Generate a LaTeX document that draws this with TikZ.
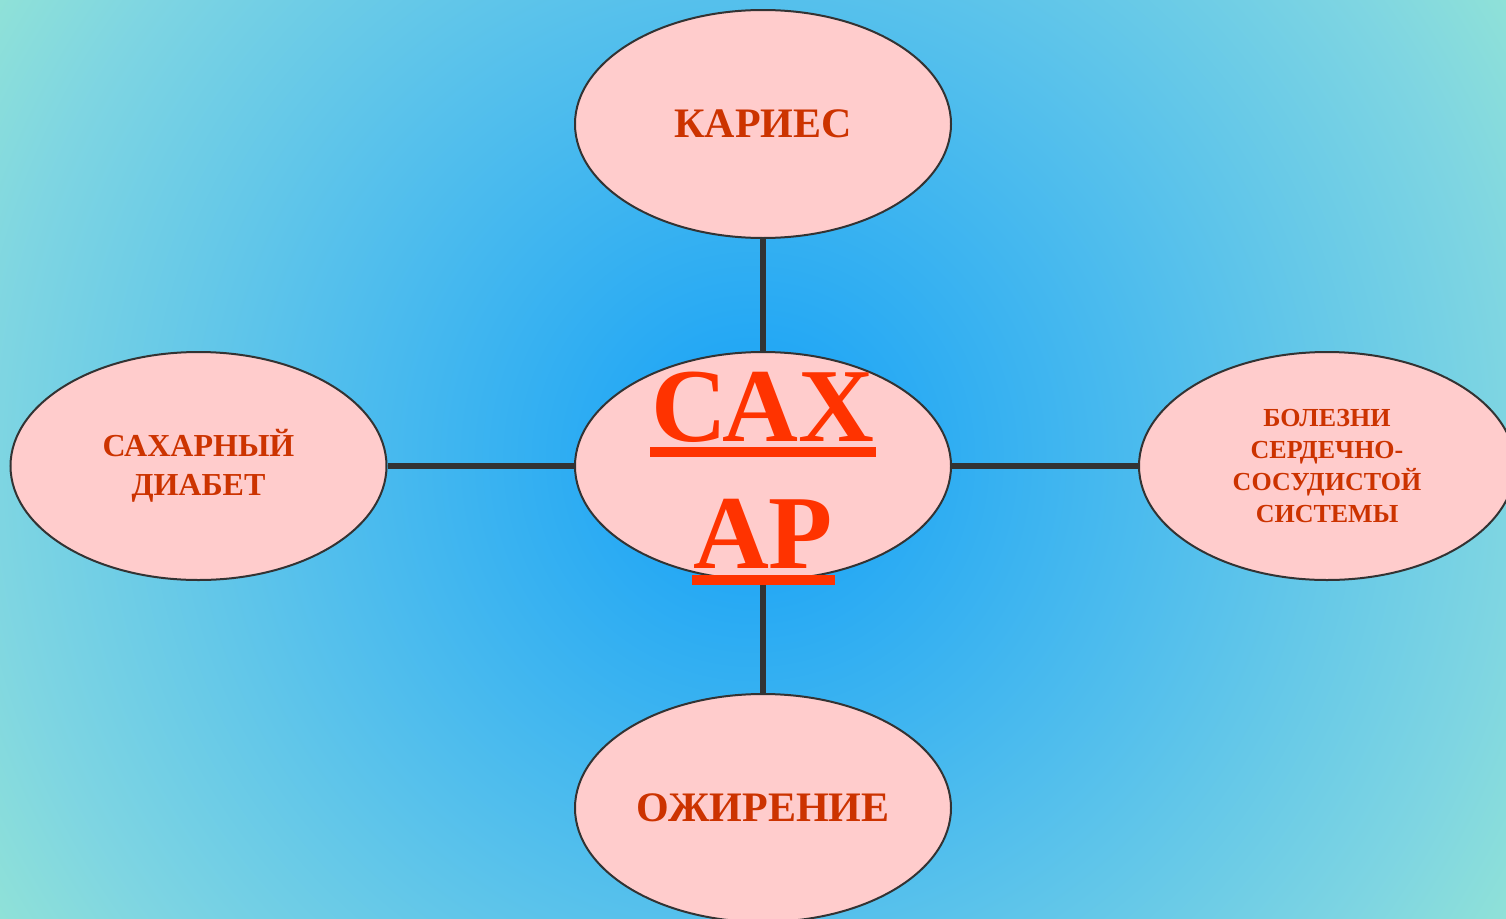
\documentclass[tikz,border=0pt]{standalone}
\usepackage{fontspec}
\setmainfont{Liberation Serif}
\usetikzlibrary{shapes.geometric}
\definecolor{bgA}{HTML}{14A0F7}
\definecolor{bgB}{HTML}{55C0EC}
\definecolor{bgC}{HTML}{7ED5E2}
\definecolor{bgD}{HTML}{8FE1D8}
\definecolor{ellfill}{HTML}{FFCCCC}
\definecolor{ellline}{HTML}{333333}
\definecolor{txtred}{HTML}{CC3300}
\definecolor{bigred}{HTML}{FF3300}
\pgfdeclareradialshading{bgshade}{\pgfpoint{0bp}{0bp}}{color(0bp)=(bgA); color(13bp)=(bgB); color(21.4bp)=(bgC); color(25bp)=(bgD); color(50bp)=(bgD)}
\tikzset{
  blob/.style={ellipse, draw=ellline, line width=2pt, fill=ellfill, inner sep=0pt,
    minimum width=376pt, minimum height=228pt, text=txtred, align=center},
  link/.style={draw=ellline, line width=5.5pt},
  bigtxt/.style={text=bigred, font=\fontsize{105}{110}\selectfont\bfseries, inner sep=0pt, anchor=base}
}
\begin{document}
\begin{tikzpicture}[x=1pt,y=-1pt]
\useasboundingbox (0,0) rectangle (1506,918);
\begin{scope}
\clip (0,0) rectangle (1506,918);
\shade[shading=bgshade] (753-881,459-881) rectangle (753+881,459+881);
\end{scope}
\node[blob, font=\fontsize{42}{48}\selectfont\bfseries] (top) at (763,124) {КАРИЕС};
\node[blob, font=\fontsize{32}{39}\selectfont\bfseries] (left) at (198.5,466) {САХАРНЫЙ\\ДИАБЕТ};
\node[blob] (c) at (763,466) {};
\node[blob, font=\fontsize{26}{32}\selectfont\bfseries] (right) at (1327,466) {БОЛЕЗНИ\\СЕРДЕЧНО-\\СОСУДИСТОЙ\\СИСТЕМЫ};
\node[blob, font=\fontsize{42}{48}\selectfont\bfseries] (bot) at (763,808) {ОЖИРЕНИЕ};
\draw[link] (top) -- (c);
\draw[link] (left) -- (c);
\draw[link] (right) -- (c);
\draw[link] (bot) -- (c);
\node[bigtxt] (l1) at (763,441) {САХ};
\node[bigtxt] (l2) at (763,568) {АР};
\fill[bigred] (650,447) rectangle (876,457);
\fill[bigred] (692,575) rectangle (835,585);
\end{tikzpicture}
\end{document}
